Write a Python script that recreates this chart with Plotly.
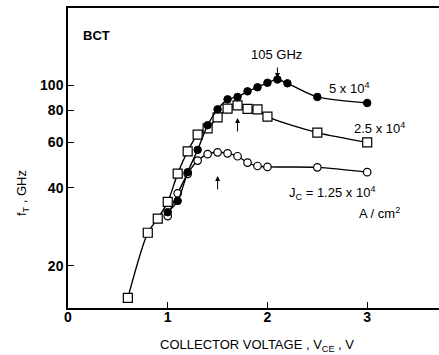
import plotly.graph_objects as go

# Data
v_high = [1.0, 1.1, 1.2, 1.3, 1.4, 1.5, 1.6, 1.7, 1.8, 1.9, 2.0, 2.1, 2.2, 2.5, 3.0]
ft_high = [32.2, 35.6, 46.0, 56.1, 69.9, 80.5, 88.0, 89.9, 94.5, 98.0, 102.0, 105.0, 101.5, 89.9, 85.2]

v_mid = [0.6, 0.8, 0.9, 1.0, 1.1, 1.2, 1.3, 1.4, 1.5, 1.6, 1.7, 1.8, 1.9, 2.0, 2.5, 3.0]
ft_mid = [15.0, 26.8, 30.4, 35.3, 45.4, 55.4, 64.3, 68.0, 75.0, 81.0, 83.4, 80.8, 80.5, 75.4, 65.4, 60.0]

v_low = [1.0, 1.1, 1.2, 1.3, 1.4, 1.5, 1.6, 1.7, 1.8, 1.9, 2.0, 2.5, 3.0]
ft_low = [31.1, 38.1, 45.3, 51.0, 54.0, 54.9, 54.4, 53.0, 50.1, 48.6, 48.2, 48.0, 46.0]

x_ticks = [0, 1, 2, 3]
y_ticks = [20, 40, 60, 80, 100]

FONT = "Liberation Sans"
fig = go.Figure()

line = dict(color="black", width=1.4, shape="spline", smoothing=0.8)

fig.add_trace(go.Scatter(x=v_low, y=ft_low, mode="lines+markers", line=line,
                         marker=dict(symbol="circle", size=7.5, color="white",
                                     line=dict(color="black", width=1.2))))
fig.add_trace(go.Scatter(x=v_mid, y=ft_mid, mode="lines+markers", line=line,
                         marker=dict(symbol="square", size=9, color="white",
                                     line=dict(color="black", width=1.2))))
fig.add_trace(go.Scatter(x=v_high, y=ft_high, mode="lines+markers", line=line,
                         marker=dict(symbol="circle", size=7.5, color="black",
                                     line=dict(color="black", width=1))))

def px_to_logy(py):
    return 2 - (py - 85) / 258.5

ann = []
txt = dict(family=FONT, size=13, color="black")
ann.append(dict(x=0.29, y=px_to_logy(35), text="<b>BCT</b>", showarrow=False, font=txt))
ann.append(dict(x=2.09, y=px_to_logy(54), text="105 GHz", showarrow=False, font=txt))
ann.append(dict(x=2.82, y=px_to_logy(88), text="5 x 10<sup>4</sup>", showarrow=False, font=txt))
ann.append(dict(x=3.12, y=px_to_logy(128), text="2.5 x 10<sup>4</sup>", showarrow=False, font=txt))
ann.append(dict(x=2.65, y=px_to_logy(193), text="J<sub>C</sub> = 1.25 x 10<sup>4</sup>", showarrow=False, font=txt))
ann.append(dict(x=3.12, y=px_to_logy(213), text="A / cm<sup>2</sup>", showarrow=False, font=txt))

arrow = dict(text="", showarrow=True, arrowhead=2, arrowsize=1, arrowwidth=1,
             arrowcolor="black", axref="pixel", ayref="pixel", ax=0)
ann.append(dict(x=2.1, y=px_to_logy(78), ay=-12, **arrow))
ann.append(dict(x=1.7, y=px_to_logy(118), ay=15, **arrow))
ann.append(dict(x=1.5, y=px_to_logy(176), ay=15, **arrow))

for a in ann:
    a.setdefault("xref", "x")
    a.setdefault("yref", "y")

# axis titles placed like the reference
ann.append(dict(xref="paper", yref="paper", x=-0.124, y=0.383, textangle=-90,
                xanchor="center", yanchor="middle",
                text="f<sub>T</sub> , GHz", showarrow=False,
                font=dict(family=FONT, size=13, color="black")))
ann.append(dict(xref="paper", yref="paper", x=0.509, y=-0.125, yanchor="middle",
                text="COLLECTOR VOLTAGE , V<sub>CE</sub> , V", showarrow=False,
                font=dict(family=FONT, size=13, color="black")))
fig.update_layout(annotations=ann)

fig.update_layout(
    width=439, height=355,
    margin=dict(l=68, r=0, t=8, b=47),
    paper_bgcolor="white", plot_bgcolor="white",
    showlegend=False,
    font=dict(family=FONT, size=13, color="black"),
    xaxis=dict(range=[0, 3.72], tickvals=x_ticks, ticktext=[str(t) for t in x_ticks],
               ticks="inside", ticklen=6, tickwidth=1.2, tickcolor="black",
               ticklabelstandoff=-5,
               showline=True, linecolor="black", linewidth=1.5, mirror=True,
               showgrid=False, zeroline=False,
               tickfont=dict(family=FONT, size=14, color="black", weight="bold")),
    yaxis=dict(type="log", range=[1.137, 2.298], tickvals=y_ticks,
               ticktext=[str(t) for t in y_ticks],
               ticks="inside", ticklen=6, tickwidth=1.2, tickcolor="black",
               showline=True, linecolor="black", linewidth=1.5,
               showgrid=False, zeroline=False,
               tickfont=dict(family=FONT, size=14, color="black", weight="bold")),
)

fig.write_html("out.html", config={"displayModeBar": False},
               post_script="document.body.style.margin='0';document.body.style.overflow='hidden';")
